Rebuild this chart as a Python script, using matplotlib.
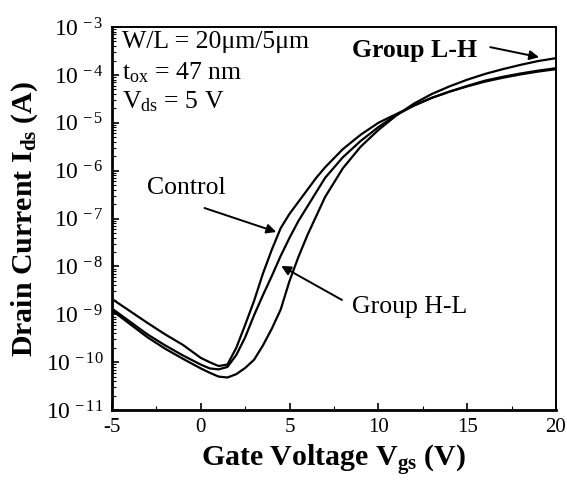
import numpy as np
import matplotlib
matplotlib.use("Agg")
import matplotlib.pyplot as plt
from matplotlib.ticker import FixedLocator, FuncFormatter, LogLocator, NullFormatter

plt.rcParams['font.family'] = ['Liberation Serif', 'DejaVu Serif']
plt.rcParams['mathtext.fontset'] = 'custom'
plt.rcParams['mathtext.rm'] = 'Liberation Serif'
plt.rcParams['mathtext.it'] = 'Liberation Serif:italic'
plt.rcParams['mathtext.bf'] = 'Liberation Serif:bold'
plt.rcParams['axes.unicode_minus'] = False

# gate voltage (V) and log10 of drain current (A)
vgs = [-5, -4, -3, -2, -1, 0, 0.5, 1.0, 1.5, 2.0, 2.5, 3.0, 3.5, 4.0, 4.5, 5.0, 5.5,
       6.0, 6.5, 7.0, 8.0, 9.0, 10.0, 11.0, 12.0, 13.0, 14.0, 15.0, 16.0, 17.0, 18.0, 19.0, 20.0]
log_control = [-8.68, -8.93, -9.18, -9.42, -9.64, -9.91, -10.0, -10.08, -10.05, -9.7, -9.22,
               -8.72, -8.15, -7.65, -7.2, -6.9, -6.65, -6.4, -6.15, -5.93, -5.55, -5.25, -5.0,
               -4.82, -4.64, -4.48, -4.35, -4.23, -4.12, -4.04, -3.97, -3.91, -3.86]
log_hl = [-8.88, -9.15, -9.42, -9.65, -9.86, -10.05, -10.13, -10.15, -10.1, -9.85, -9.48,
          -9.02, -8.6, -8.2, -7.78, -7.4, -7.05, -6.75, -6.45, -6.15, -5.72, -5.38, -5.09,
          -4.84, -4.64, -4.48, -4.35, -4.24, -4.14, -4.06, -3.99, -3.93, -3.88]
log_lh = [-8.92, -9.2, -9.48, -9.72, -9.93, -10.13, -10.22, -10.3, -10.32, -10.25, -10.12,
          -9.95, -9.65, -9.3, -8.9, -8.3, -7.8, -7.35, -6.95, -6.55, -5.95, -5.5, -5.15,
          -4.85, -4.6, -4.4, -4.24, -4.1, -3.98, -3.88, -3.79, -3.71, -3.65]

fig = plt.figure(figsize=(5.67, 4.83), dpi=100)
ax = fig.add_axes([0.1975, 0.151, 0.783, 0.793])

for lg in (log_control, log_hl, log_lh):
    ax.plot(vgs, 10.0 ** np.array(lg), color='black', lw=1.6)

ax.set_yscale('log')
ax.set_xlim(-5, 20)
ax.set_ylim(1e-11, 1e-3)

ax.xaxis.set_major_locator(FixedLocator([-5, 0, 5, 10, 15, 20]))
ax.xaxis.set_minor_locator(FixedLocator([-2.5, 2.5, 7.5, 12.5, 17.5]))
ax.yaxis.set_major_locator(LogLocator(base=10, numticks=20))
ax.yaxis.set_minor_locator(LogLocator(base=10, subs=np.arange(2, 10), numticks=20))
ax.yaxis.set_minor_formatter(NullFormatter())
ax.yaxis.set_major_formatter(FuncFormatter(
    lambda v, p: r'$\mathregular{10^{\,-%d}}$' % round(-np.log10(v))))

ax.tick_params(which='both', direction='in', top=False, right=False)
ax.tick_params(which='major', length=5, width=1.2, pad=6)
ax.tick_params(axis='y', labelsize=17)
ax.tick_params(axis='x', labelsize=15)
ax.tick_params(which='minor', length=3, width=0.8)
for s in ax.spines.values():
    s.set_linewidth(1.4)
ax.spines['left'].set_linewidth(2)
ax.spines['bottom'].set_linewidth(2)

ax.set_xlabel(r'Gate Voltage V$_{\mathbf{gs}}$ (V)', fontsize=21.5, fontweight='bold', labelpad=4)
ax.set_ylabel(r'Drain Current I$_{\mathbf{ds}}$ (A)', fontsize=21.5, fontweight='bold', labelpad=4)

ax.text(0.022, 0.961, 'W/L = 20μm/5μm', transform=ax.transAxes, fontsize=18.5, va='center')
ax.text(0.022, 0.88, r't$_{\mathregular{ox}}$ = 47 nm', transform=ax.transAxes, fontsize=18.5, va='center')
ax.text(0.022, 0.805, r'V$_{\mathregular{ds}}$ = 5 V', transform=ax.transAxes, fontsize=18.5, va='center')

arrow = dict(arrowstyle='-|>', color='black', lw=1.4, mutation_scale=14, shrinkA=0, shrinkB=0)
ax.text(-3.04, 10 ** -6.36, 'Control', fontsize=18.5, va='center')
ax.annotate('', xy=(4.25, 10 ** -7.28), xytext=(0.21, 10 ** -6.78), arrowprops=arrow)
ax.text(8.51, 10 ** -8.85, 'Group H-L', fontsize=18.5, va='center')
ax.annotate('', xy=(4.53, 10 ** -7.99), xytext=(7.95, 10 ** -8.70), arrowprops=arrow)
ax.text(8.51, 10 ** -3.48, 'Group L-H', fontsize=18.5, va='center', fontweight='bold')
ax.annotate('', xy=(19.05, 10 ** -3.63), xytext=(16.3, 10 ** -3.42), arrowprops=arrow)

fig.savefig('out.png', dpi=100)
